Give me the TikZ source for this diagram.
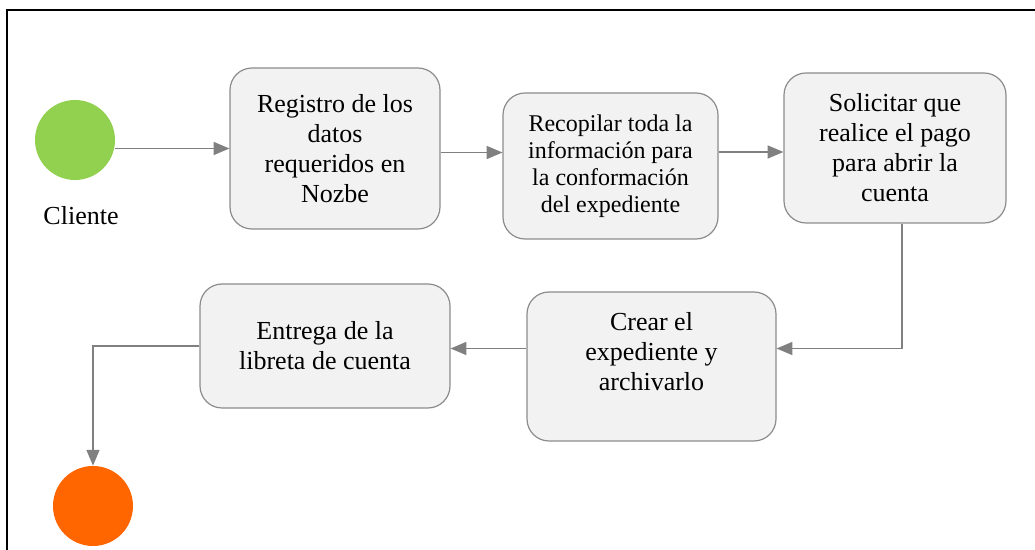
\documentclass[tikz,border=0pt]{standalone}
\usepackage{fontspec}
\setmainfont{LiberationSerif}[Extension=.ttf, UprightFont=*-Regular, BoldFont=*-Bold]
\usetikzlibrary{arrows}
\definecolor{boxfill}{HTML}{F2F2F2}
\definecolor{boxline}{HTML}{8C8C8C}
\definecolor{flowgray}{HTML}{808080}
\definecolor{startgreen}{HTML}{92D050}
\definecolor{endorange}{HTML}{FF6600}

\begin{document}
\begin{tikzpicture}[x=0.5pt,y=-0.5pt,
  act/.style={draw=boxline, fill=boxfill, line width=0.6pt, rounded corners=11pt,
    align=center, inner sep=3pt, font=\fontsize{13}{15}\selectfont},
  state/.style={circle, draw=none, minimum size=40pt, inner sep=0pt},
  flow/.style={-triangle 45, draw=flowgray, line width=0.8pt}]
 \useasboundingbox (0,0) rectangle (1035,550);
 \draw[line width=1pt] (7,550) -- (7,10) -- (1035,10);

 \node[state, fill=startgreen] (start) at (75,140) {};
 \node[font=\fontsize{13}{15}\selectfont] (client) at (81,216) {Cliente};
 \node[state, fill=endorange] (end) at (93,506) {};

 \node[act, minimum width=105pt, minimum height=80.5pt] (reg) at (335,148.5)
  {Registro de los\\datos\\requeridos en\\Nozbe};
 \node[act, minimum width=107.5pt, minimum height=73pt, font=\fontsize{12}{13.5}\selectfont] (rec) at (610.5,166)
  {Recopilar toda la\\información para\\la conformación\\del expediente};
 \node[act, minimum width=111pt, minimum height=75pt] (pay) at (895,148)
  {Solicitar que\\realice el pago\\para abrir la\\cuenta};
 \node[act, minimum width=124.5pt, minimum height=74.5pt] (file) at (651.5,366.5)
  {Crear el\\expediente y\\archivarlo\\~};
 \node[act, minimum width=125pt, minimum height=62pt] (give) at (325,346)
  {Entrega de la\\libreta de cuenta};

 \draw[flow] (start.east |- reg.west) -- (reg.west);
 \draw[flow] ([yshift=-2pt]reg.east) -- ([yshift=-2pt]reg.east -| rec.west);
 \draw[flow] ([yshift=-2pt]pay.west -| rec.east) -- ([yshift=-2pt]pay.west);
 \draw[flow] ([xshift=3.5pt]pay.south) |- ([yshift=9pt]file.east);
 \draw[flow] ([yshift=9pt]file.west) -- ([yshift=9pt]file.west -| give.east);
 \draw[flow] (give.west) -| (end.north);
\end{tikzpicture}
\end{document}
